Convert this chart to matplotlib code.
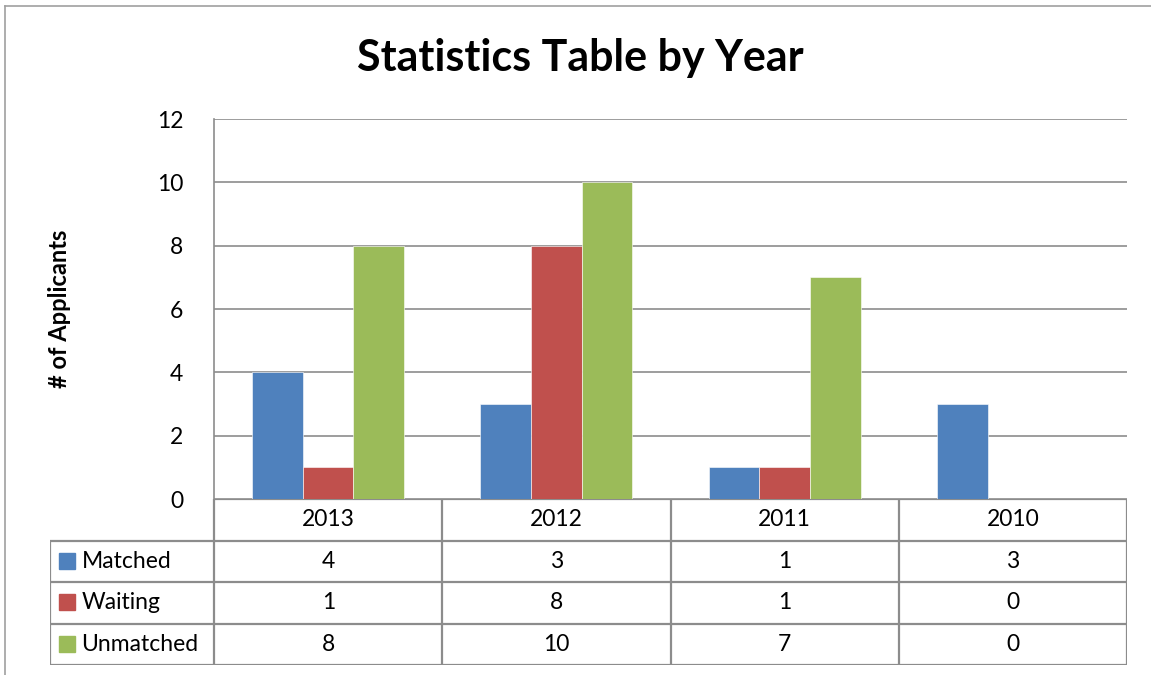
import matplotlib
matplotlib.use("Agg")
import matplotlib.pyplot as plt
from matplotlib.patches import Rectangle
from matplotlib.lines import Line2D

years = ["2013", "2012", "2011", "2010"]
series_names = ["Matched", "Waiting", "Unmatched"]
matched = [4, 3, 1, 3]
waiting = [1, 8, 1, 0]
unmatched = [8, 10, 7, 0]
colors = ["#4F81BD", "#C0504D", "#9BBB59"]
yticks = [0, 2, 4, 6, 8, 10, 12]

plt.rcParams['font.family'] = ['Lato', 'DejaVu Sans']

W, H = 1151, 675
fig = plt.figure(figsize=(W / 100, H / 100), dpi=100)

def px_axes(x0, y0, x1, y1):
    return fig.add_axes([x0 / W, 1 - y1 / H, (x1 - x0) / W, (y1 - y0) / H])

grid_c = "#8C8C8C"
line_c = "#8C8C8C"
fs = 16.5

# outer frame
fig.add_artist(Line2D([5 / W, 5 / W], [0, 1 - 6 / H], color="#A0A0A0", lw=1.2, transform=fig.transFigure))
fig.add_artist(Line2D([5 / W, 1], [1 - 6 / H, 1 - 6 / H], color="#A0A0A0", lw=1.2, transform=fig.transFigure))

# main plot
ax = px_axes(214, 119, 1127, 499)
n = len(years)
data = [matched, waiting, unmatched]
bw = 0.222
for s, (vals, c) in enumerate(zip(data, colors)):
    xs = [i + 0.5 + (s - 1) * bw for i in range(n)]
    ax.bar(xs, vals, width=bw, color=c, edgecolor="white", linewidth=0.4, zorder=3)
ax.set_xlim(0, n)
ax.set_ylim(0, 12)
ax.set_yticks(yticks)
ax.set_yticklabels([str(t) for t in yticks], fontsize=fs)
ax.tick_params(axis='y', length=0, pad=22)
ax.set_xticks([])
ax.yaxis.grid(True, color=grid_c, lw=1.2, zorder=0)
for sp in ["top", "right", "bottom"]:
    ax.spines[sp].set_visible(False)
ax.spines["left"].set_color(line_c)
ax.spines["left"].set_linewidth(1.2)
ax.set_ylabel("# of Applicants", fontsize=17, fontweight="bold")
ax.yaxis.set_label_coords(-0.157, 0.5)

fig.text(580 / W, 1 - 58 / H, "Statistics Table by Year", fontsize=31, fontweight="bold",
         ha="center", va="center")

# data table
tb = px_axes(50, 499, 1127, 665)
left_w = 164 / 228
tb.set_xlim(-left_w, n)
tb.set_ylim(4, 0)
tb.axis("off")
lk = dict(color=line_c, lw=1.6, solid_capstyle="butt")
tb.plot([0, n], [0, 0], **lk)
for r in [1, 2, 3, 4]:
    tb.plot([-left_w, n], [r, r], **lk)
for c in range(n + 1):
    tb.plot([c, c], [0, 4], **lk)
tb.plot([-left_w, -left_w], [1, 4], **lk)

for i, y in enumerate(years):
    tb.text(i + 0.5, 0.5, y, ha="center", va="center", fontsize=fs)
for s, (name, vals, c) in enumerate(zip(series_names, data, colors)):
    r = s + 1
    tb.add_patch(Rectangle((-left_w + 0.04, r + 0.3), 0.068, 0.38, color=c, transform=tb.transData))
    tb.text(-left_w + 0.138, r + 0.5, name, ha="left", va="center", fontsize=fs)
    for i, v in enumerate(vals):
        tb.text(i + 0.5, r + 0.5, str(v), ha="center", va="center", fontsize=fs)

fig.savefig("out.png", dpi=100, facecolor="white")
